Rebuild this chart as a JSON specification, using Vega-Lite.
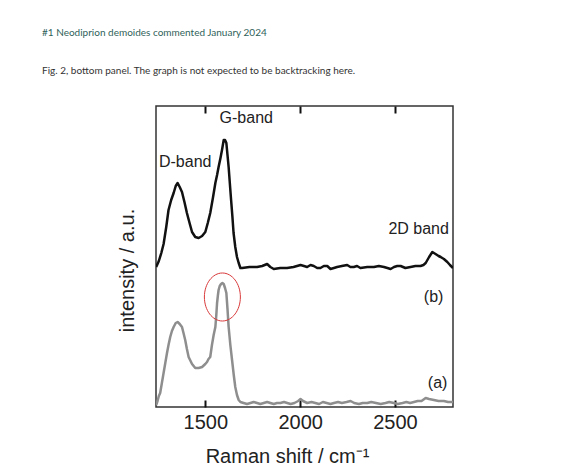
{
  "$schema": "https://vega.github.io/schema/vega-lite/v6.json",
  "autosize": "none",
  "width": 297,
  "height": 301,
  "padding": {"left": 156, "top": 106, "right": 108, "bottom": 63},
  "background": "white",
  "title": {
    "text": "#1 Neodiprion demoides commented January 2024",
    "subtitle": "Fig. 2, bottom panel. The graph is not expected to be backtracking here.",
    "anchor": "start",
    "frame": "group",
    "dx": -114,
    "offset": 29,
    "font": "Lato",
    "fontSize": 10,
    "fontWeight": "normal",
    "color": "#2f5f5a",
    "subtitleFont": "Lato",
    "subtitleFontSize": 10,
    "subtitleColor": "#333333",
    "subtitlePadding": 28
  },
  "config": {
    "view": {"stroke": "#333333", "strokeWidth": 1.5}
  },
  "resolve": {"axis": {"x": "independent"}},
  "encoding": {
    "y": {
      "field": "intensity",
      "type": "quantitative",
      "scale": {"domain": [0, 301], "nice": false, "zero": false},
      "axis": {
        "title": "intensity / a.u.",
        "ticks": false,
        "labels": false,
        "domain": false,
        "grid": false,
        "titleFont": "Liberation Sans",
        "titleFontSize": 20,
        "titleFontWeight": "normal",
        "titleColor": "#222222",
        "titleAngle": -90,
        "titleAlign": "center",
        "titleBaseline": "middle",
        "titleX": -29,
        "titleY": 164
      }
    }
  },
  "layer": [
    {
      "data": {
        "values": [
          {"raman": 1241, "intensity": 140, "series": "b"},
          {"raman": 1255, "intensity": 146, "series": "b"},
          {"raman": 1268, "intensity": 154, "series": "b"},
          {"raman": 1280, "intensity": 163, "series": "b"},
          {"raman": 1294, "intensity": 180, "series": "b"},
          {"raman": 1306, "intensity": 197, "series": "b"},
          {"raman": 1320, "intensity": 207, "series": "b"},
          {"raman": 1333, "intensity": 214, "series": "b"},
          {"raman": 1344, "intensity": 221, "series": "b"},
          {"raman": 1354, "intensity": 224, "series": "b"},
          {"raman": 1365, "intensity": 220, "series": "b"},
          {"raman": 1377, "intensity": 215, "series": "b"},
          {"raman": 1390, "intensity": 205, "series": "b"},
          {"raman": 1403, "intensity": 194, "series": "b"},
          {"raman": 1417, "intensity": 184, "series": "b"},
          {"raman": 1430, "intensity": 175, "series": "b"},
          {"raman": 1447, "intensity": 170, "series": "b"},
          {"raman": 1465, "intensity": 169, "series": "b"},
          {"raman": 1483, "intensity": 171, "series": "b"},
          {"raman": 1500, "intensity": 175, "series": "b"},
          {"raman": 1513, "intensity": 184, "series": "b"},
          {"raman": 1526, "intensity": 194, "series": "b"},
          {"raman": 1540, "intensity": 209, "series": "b"},
          {"raman": 1553, "intensity": 224, "series": "b"},
          {"raman": 1562, "intensity": 232, "series": "b"},
          {"raman": 1570, "intensity": 240, "series": "b"},
          {"raman": 1580, "intensity": 249, "series": "b"},
          {"raman": 1588, "intensity": 257, "series": "b"},
          {"raman": 1597, "intensity": 267, "series": "b"},
          {"raman": 1604, "intensity": 267, "series": "b"},
          {"raman": 1611, "intensity": 264, "series": "b"},
          {"raman": 1617, "intensity": 252, "series": "b"},
          {"raman": 1623, "intensity": 240, "series": "b"},
          {"raman": 1630, "intensity": 222, "series": "b"},
          {"raman": 1636, "intensity": 207, "series": "b"},
          {"raman": 1643, "intensity": 190, "series": "b"},
          {"raman": 1649, "intensity": 174, "series": "b"},
          {"raman": 1658, "intensity": 160, "series": "b"},
          {"raman": 1667, "intensity": 150, "series": "b"},
          {"raman": 1676, "intensity": 144, "series": "b"},
          {"raman": 1685, "intensity": 139, "series": "b"},
          {"raman": 1694, "intensity": 139, "series": "b"},
          {"raman": 1733, "intensity": 140, "series": "b"},
          {"raman": 1773, "intensity": 140, "series": "b"},
          {"raman": 1800, "intensity": 141, "series": "b"},
          {"raman": 1826, "intensity": 143, "series": "b"},
          {"raman": 1843, "intensity": 140, "series": "b"},
          {"raman": 1861, "intensity": 138, "series": "b"},
          {"raman": 1895, "intensity": 139, "series": "b"},
          {"raman": 1931, "intensity": 139, "series": "b"},
          {"raman": 1965, "intensity": 140, "series": "b"},
          {"raman": 2002, "intensity": 142, "series": "b"},
          {"raman": 2020, "intensity": 141, "series": "b"},
          {"raman": 2037, "intensity": 140, "series": "b"},
          {"raman": 2055, "intensity": 142, "series": "b"},
          {"raman": 2072, "intensity": 141, "series": "b"},
          {"raman": 2090, "intensity": 139, "series": "b"},
          {"raman": 2107, "intensity": 139, "series": "b"},
          {"raman": 2125, "intensity": 141, "series": "b"},
          {"raman": 2143, "intensity": 141, "series": "b"},
          {"raman": 2160, "intensity": 138, "series": "b"},
          {"raman": 2178, "intensity": 139, "series": "b"},
          {"raman": 2195, "intensity": 140, "series": "b"},
          {"raman": 2220, "intensity": 141, "series": "b"},
          {"raman": 2248, "intensity": 142, "series": "b"},
          {"raman": 2265, "intensity": 140, "series": "b"},
          {"raman": 2283, "intensity": 140, "series": "b"},
          {"raman": 2300, "intensity": 141, "series": "b"},
          {"raman": 2318, "intensity": 139, "series": "b"},
          {"raman": 2354, "intensity": 140, "series": "b"},
          {"raman": 2389, "intensity": 140, "series": "b"},
          {"raman": 2415, "intensity": 141, "series": "b"},
          {"raman": 2442, "intensity": 140, "series": "b"},
          {"raman": 2460, "intensity": 139, "series": "b"},
          {"raman": 2477, "intensity": 138, "series": "b"},
          {"raman": 2495, "intensity": 140, "series": "b"},
          {"raman": 2512, "intensity": 141, "series": "b"},
          {"raman": 2530, "intensity": 141, "series": "b"},
          {"raman": 2555, "intensity": 139, "series": "b"},
          {"raman": 2582, "intensity": 140, "series": "b"},
          {"raman": 2608, "intensity": 141, "series": "b"},
          {"raman": 2635, "intensity": 141, "series": "b"},
          {"raman": 2650, "intensity": 142, "series": "b"},
          {"raman": 2662, "intensity": 144, "series": "b"},
          {"raman": 2680, "intensity": 150, "series": "b"},
          {"raman": 2697, "intensity": 155, "series": "b"},
          {"raman": 2714, "intensity": 153, "series": "b"},
          {"raman": 2730, "intensity": 151, "series": "b"},
          {"raman": 2741, "intensity": 150, "series": "b"},
          {"raman": 2758, "intensity": 148, "series": "b"},
          {"raman": 2776, "intensity": 145, "series": "b"},
          {"raman": 2790, "intensity": 142, "series": "b"},
          {"raman": 2806, "intensity": 139, "series": "b"},
          {"raman": 1241, "intensity": 2, "series": "a"},
          {"raman": 1248, "intensity": 6, "series": "a"},
          {"raman": 1255, "intensity": 11, "series": "a"},
          {"raman": 1262, "intensity": 14, "series": "a"},
          {"raman": 1271, "intensity": 24, "series": "a"},
          {"raman": 1280, "intensity": 34, "series": "a"},
          {"raman": 1289, "intensity": 44, "series": "a"},
          {"raman": 1298, "intensity": 54, "series": "a"},
          {"raman": 1306, "intensity": 62, "series": "a"},
          {"raman": 1315, "intensity": 70, "series": "a"},
          {"raman": 1324, "intensity": 76, "series": "a"},
          {"raman": 1333, "intensity": 80, "series": "a"},
          {"raman": 1344, "intensity": 84, "series": "a"},
          {"raman": 1354, "intensity": 85, "series": "a"},
          {"raman": 1365, "intensity": 83, "series": "a"},
          {"raman": 1377, "intensity": 80, "series": "a"},
          {"raman": 1385, "intensity": 74, "series": "a"},
          {"raman": 1394, "intensity": 67, "series": "a"},
          {"raman": 1403, "intensity": 58, "series": "a"},
          {"raman": 1412, "intensity": 50, "series": "a"},
          {"raman": 1430, "intensity": 43, "series": "a"},
          {"raman": 1447, "intensity": 39, "series": "a"},
          {"raman": 1465, "intensity": 39, "series": "a"},
          {"raman": 1483, "intensity": 40, "series": "a"},
          {"raman": 1500, "intensity": 43, "series": "a"},
          {"raman": 1509, "intensity": 45, "series": "a"},
          {"raman": 1517, "intensity": 48, "series": "a"},
          {"raman": 1526, "intensity": 50, "series": "a"},
          {"raman": 1535, "intensity": 62, "series": "a"},
          {"raman": 1544, "intensity": 72, "series": "a"},
          {"raman": 1553, "intensity": 80, "series": "a"},
          {"raman": 1558, "intensity": 92, "series": "a"},
          {"raman": 1562, "intensity": 104, "series": "a"},
          {"raman": 1566, "intensity": 111, "series": "a"},
          {"raman": 1570, "intensity": 117, "series": "a"},
          {"raman": 1576, "intensity": 121, "series": "a"},
          {"raman": 1583, "intensity": 123, "series": "a"},
          {"raman": 1590, "intensity": 124, "series": "a"},
          {"raman": 1597, "intensity": 123, "series": "a"},
          {"raman": 1604, "intensity": 119, "series": "a"},
          {"raman": 1611, "intensity": 114, "series": "a"},
          {"raman": 1617, "intensity": 98, "series": "a"},
          {"raman": 1623, "intensity": 80, "series": "a"},
          {"raman": 1632, "intensity": 62, "series": "a"},
          {"raman": 1641, "intensity": 47, "series": "a"},
          {"raman": 1650, "intensity": 32, "series": "a"},
          {"raman": 1658, "intensity": 20, "series": "a"},
          {"raman": 1667, "intensity": 12, "series": "a"},
          {"raman": 1676, "intensity": 7, "series": "a"},
          {"raman": 1685, "intensity": 5, "series": "a"},
          {"raman": 1702, "intensity": 4, "series": "a"},
          {"raman": 1720, "intensity": 3, "series": "a"},
          {"raman": 1738, "intensity": 4, "series": "a"},
          {"raman": 1755, "intensity": 5, "series": "a"},
          {"raman": 1773, "intensity": 4, "series": "a"},
          {"raman": 1790, "intensity": 3, "series": "a"},
          {"raman": 1808, "intensity": 4, "series": "a"},
          {"raman": 1826, "intensity": 5, "series": "a"},
          {"raman": 1843, "intensity": 4, "series": "a"},
          {"raman": 1861, "intensity": 3, "series": "a"},
          {"raman": 1878, "intensity": 4, "series": "a"},
          {"raman": 1896, "intensity": 4, "series": "a"},
          {"raman": 1915, "intensity": 5, "series": "a"},
          {"raman": 1932, "intensity": 4, "series": "a"},
          {"raman": 1950, "intensity": 3, "series": "a"},
          {"raman": 1970, "intensity": 4, "series": "a"},
          {"raman": 1990, "intensity": 6, "series": "a"},
          {"raman": 2002, "intensity": 8, "series": "a"},
          {"raman": 2015, "intensity": 6, "series": "a"},
          {"raman": 2037, "intensity": 4, "series": "a"},
          {"raman": 2060, "intensity": 5, "series": "a"},
          {"raman": 2080, "intensity": 4, "series": "a"},
          {"raman": 2100, "intensity": 3, "series": "a"},
          {"raman": 2120, "intensity": 5, "series": "a"},
          {"raman": 2140, "intensity": 4, "series": "a"},
          {"raman": 2160, "intensity": 3, "series": "a"},
          {"raman": 2178, "intensity": 4, "series": "a"},
          {"raman": 2200, "intensity": 5, "series": "a"},
          {"raman": 2220, "intensity": 4, "series": "a"},
          {"raman": 2245, "intensity": 5, "series": "a"},
          {"raman": 2266, "intensity": 6, "series": "a"},
          {"raman": 2285, "intensity": 4, "series": "a"},
          {"raman": 2310, "intensity": 3, "series": "a"},
          {"raman": 2330, "intensity": 4, "series": "a"},
          {"raman": 2354, "intensity": 4, "series": "a"},
          {"raman": 2375, "intensity": 5, "series": "a"},
          {"raman": 2400, "intensity": 4, "series": "a"},
          {"raman": 2425, "intensity": 3, "series": "a"},
          {"raman": 2450, "intensity": 4, "series": "a"},
          {"raman": 2470, "intensity": 5, "series": "a"},
          {"raman": 2494, "intensity": 4, "series": "a"},
          {"raman": 2515, "intensity": 3, "series": "a"},
          {"raman": 2540, "intensity": 4, "series": "a"},
          {"raman": 2560, "intensity": 5, "series": "a"},
          {"raman": 2580, "intensity": 4, "series": "a"},
          {"raman": 2600, "intensity": 5, "series": "a"},
          {"raman": 2620, "intensity": 6, "series": "a"},
          {"raman": 2640, "intensity": 6, "series": "a"},
          {"raman": 2662, "intensity": 9, "series": "a"},
          {"raman": 2680, "intensity": 8, "series": "a"},
          {"raman": 2705, "intensity": 7, "series": "a"},
          {"raman": 2730, "intensity": 6, "series": "a"},
          {"raman": 2758, "intensity": 6, "series": "a"},
          {"raman": 2780, "intensity": 5, "series": "a"},
          {"raman": 2806, "intensity": 5, "series": "a"}
        ]
      },
      "mark": {"type": "line", "strokeWidth": 2.5, "strokeJoin": "round", "clip": true},
      "encoding": {
        "x": {
          "field": "raman",
          "type": "quantitative",
          "scale": {"domain": [1240, 2806], "nice": false, "zero": false},
          "axis": {
            "orient": "bottom",
            "values": [1500, 2000, 2500],
            "format": "d",
            "tickSize": -7,
            "tickWidth": 2,
            "tickColor": "#111111",
            "domain": false,
            "grid": false,
            "labelFont": "Liberation Sans",
            "labelFontSize": 20,
            "labelColor": "#222222",
            "labelPadding": 12,
            "title": "Raman shift / cm⁻¹",
            "titleFont": "Liberation Sans",
            "titleFontSize": 20,
            "titleFontWeight": "normal",
            "titleColor": "#222222",
            "titlePadding": 14,
            "titleX": 131
          }
        },
        "color": {
          "field": "series",
          "type": "nominal",
          "scale": {"domain": ["a", "b"], "range": ["#8e8e8e", "#111111"]},
          "legend": null
        }
      }
    },
    {
      "data": {
        "values": [
          {"raman": 1394, "intensity": 245, "label": "D-band"},
          {"raman": 1716, "intensity": 289, "label": "G-band"},
          {"raman": 2625, "intensity": 178, "label": "2D band"},
          {"raman": 2704, "intensity": 110, "label": "(b)"},
          {"raman": 2725, "intensity": 24, "label": "(a)"}
        ]
      },
      "mark": {"type": "text", "font": "Liberation Sans", "fontSize": 16, "color": "#222222", "align": "center", "baseline": "middle"},
      "encoding": {
        "x": {
          "field": "raman",
          "type": "quantitative",
          "axis": {
            "orient": "top",
            "values": [1500, 2000, 2500],
            "tickSize": -7,
            "tickWidth": 2,
            "tickColor": "#111111",
            "domain": false,
            "grid": false,
            "labels": false,
            "title": null
          }
        },
        "text": {"field": "label"}
      }
    },
    {
      "data": {"values": [{"raman": 1590, "intensity": 110}]},
      "mark": {
        "type": "point",
        "shape": "M-0.75,0A0.75,1,0,1,0,0.75,0A0.75,1,0,1,0,-0.75,0Z",
        "size": 2304,
        "filled": false,
        "stroke": "#d9393a",
        "strokeWidth": 1,
        "opacity": 1
      },
      "encoding": {
        "x": {"field": "raman", "type": "quantitative", "axis": null}
      }
    }
  ]
}
